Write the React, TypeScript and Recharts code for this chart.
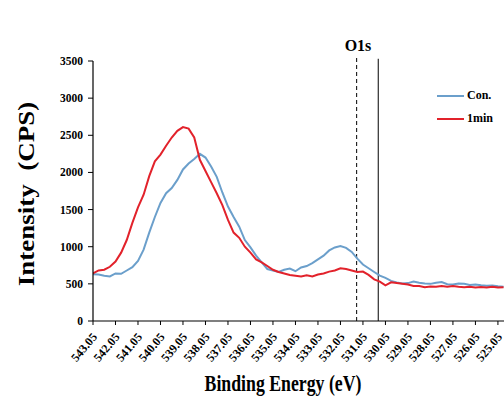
import React from 'react';
import { LineChart, Line, XAxis, YAxis, ReferenceLine } from 'recharts';

const energies = [543.05, 542.8, 542.55, 542.3, 542.05, 541.8, 541.55, 541.3, 541.05, 540.8, 540.55, 540.3, 540.05, 539.8, 539.55, 539.3, 539.05, 538.8, 538.55, 538.3, 538.05, 537.8, 537.55, 537.3, 537.05, 536.8, 536.55, 536.3, 536.05, 535.8, 535.55, 535.3, 535.05, 534.8, 534.55, 534.3, 534.05, 533.8, 533.55, 533.3, 533.05, 532.8, 532.55, 532.3, 532.05, 531.8, 531.55, 531.3, 531.05, 530.8, 530.55, 530.3, 530.05, 529.8, 529.55, 529.3, 529.05, 528.8, 528.55, 528.3, 528.05, 527.8, 527.55, 527.3, 527.05, 526.8, 526.55, 526.3, 526.05, 525.8, 525.55, 525.3, 525.05, 524.8];

const conValues = [630, 625, 610, 600, 640, 635, 680, 725, 810, 960, 1190, 1400, 1590, 1720, 1790, 1900, 2040, 2120, 2180, 2250, 2200, 2080, 1940, 1730, 1540, 1400, 1270, 1090, 990, 880, 790, 700, 680, 660, 690, 705, 670, 720, 740, 780, 830, 880, 950, 990, 1010, 985, 930, 840, 760, 710, 660, 610, 580, 540, 520, 505, 510, 530, 515, 505, 500, 515, 525, 495, 490, 505, 500, 485, 490, 480, 475, 478, 468, 462];

const oneMinValues = [640, 680, 690, 730, 800, 920, 1090, 1320, 1530, 1700, 1950, 2150, 2240, 2360, 2470, 2560, 2610, 2590, 2470, 2170, 2020, 1870, 1720, 1560, 1360, 1190, 1120, 1000, 920, 830, 790, 740, 690, 660, 640, 620, 610, 600, 615, 600, 625, 640, 665, 680, 710, 700, 680, 660, 665, 620, 560, 530, 480, 520, 510, 500, 490, 470, 470, 455, 465, 460, 470, 462, 470, 460, 455, 462, 450, 458, 452, 460, 450, 455];

const xTicks = [543.05, 542.05, 541.05, 540.05, 539.05, 538.05, 537.05, 536.05, 535.05, 534.05, 533.05, 532.05, 531.05, 530.05, 529.05, 528.05, 527.05, 526.05, 525.05];
const yTicks = [0, 500, 1000, 1500, 2000, 2500, 3000, 3500];

const dashedLineEnergy = 531.33;
const solidLineEnergy = 530.37;

const seriesNames = ['Con.', '1min'];
const seriesColors = ['#6b9fcb', '#e2222b'];

const data = energies.map((e, i) => ({ e, con: conValues[i], m1: oneMinValues[i] }));

const FONT = '"Liberation Serif", "Times New Roman", serif';

const XTick = (props: any) => {
  const { x, y, payload } = props;
  return (
    <g transform={`translate(${x + 1},${y + 7})`}>
      <text transform="rotate(-50)" textAnchor="end" x={0} y={0} dy={5} fontFamily={FONT} fontWeight="bold" fontSize={12} fill="#000">
        {payload.value.toFixed(2)}
      </text>
    </g>
  );
};

const YTick = (props: any) => {
  const { x, y, payload } = props;
  return (
    <text x={x - 3} y={y} dy={4} textAnchor="end" fontFamily={FONT} fontWeight="bold" fontSize={11.5} fill="#000">
      {payload.value}
    </text>
  );
};

export default function App() {
  return (
    <div style={{ position: 'absolute', left: 0, top: 0, width: 504, height: 399, background: '#fff', overflow: 'hidden' }}>
      <LineChart width={504} height={399} data={data} margin={{ top: 61, right: 0, bottom: 0, left: 33 }}>
        <XAxis
          dataKey="e"
          type="number"
          domain={[524.78, 543.05]}
          reversed
          ticks={xTicks}
          interval={0}
          allowDataOverflow
          tick={<XTick />}
          tickSize={4}
          axisLine={{ stroke: '#000', strokeWidth: 1.2 }}
          tickLine={{ stroke: '#000' }}
          height={78}
        />
        <YAxis
          type="number"
          domain={[0, 3500]}
          ticks={yTicks}
          interval={0}
          width={60}
          tick={<YTick />}
          tickSize={5}
          axisLine={{ stroke: '#000', strokeWidth: 1.2 }}
          tickLine={{ stroke: '#000' }}
        />
        <ReferenceLine
          segment={[{ x: dashedLineEnergy, y: 0 }, { x: dashedLineEnergy, y: 3570 }]}
          stroke="#000"
          strokeDasharray="4 3"
          ifOverflow="visible"
        />
        <ReferenceLine
          segment={[{ x: solidLineEnergy, y: 0 }, { x: solidLineEnergy, y: 3530 }]}
          stroke="#000"
          ifOverflow="visible"
        />
        <Line dataKey="con" name={seriesNames[0]} stroke={seriesColors[0]} strokeWidth={2} dot={false} isAnimationActive={false} />
        <Line dataKey="m1" name={seriesNames[1]} stroke={seriesColors[1]} strokeWidth={2} dot={false} isAnimationActive={false} />
      </LineChart>
      <div style={{ position: 'absolute', left: 437, top: 84, fontFamily: FONT, fontWeight: 'bold', fontSize: 12 }}>
        {seriesNames.map((n, i) => (
          <div key={n} style={{ display: 'flex', alignItems: 'center', height: 23 }}>
            <svg width={27} height={4} style={{ marginRight: 3 }}>
              <line x1={0} y1={2} x2={27} y2={2} stroke={seriesColors[i]} strokeWidth={2} />
            </svg>
            <span>{n}</span>
          </div>
        ))}
      </div>
      <div style={{ position: 'absolute', left: 308, width: 100, top: 37, textAlign: 'center', fontFamily: FONT, fontWeight: 'bold', fontSize: 16 }}>O1s</div>
      <div style={{ position: 'absolute', left: 133, width: 300, top: 369, textAlign: 'center', fontFamily: FONT, fontWeight: 'bold', fontSize: 24, transform: 'scaleX(0.74)', transformOrigin: '150px 0', lineHeight: '28px' }}>Binding Energy (eV)</div>
      <div style={{ position: 'absolute', left: 26, top: 194, width: 280, marginLeft: -140, marginTop: -16, height: 32, lineHeight: '32px', textAlign: 'center', transform: 'rotate(-90deg) scaleY(0.85)', fontFamily: FONT, fontWeight: 'bold', fontSize: 27, whiteSpace: 'pre' }}>Intensity  (CPS)</div>
    </div>
  );
}
